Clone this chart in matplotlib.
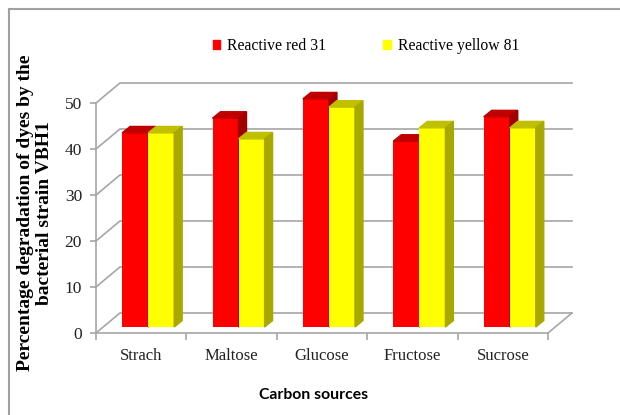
import numpy as np
import matplotlib.pyplot as plt
from matplotlib.patches import Polygon, Patch

# data
categories = ['Strach', 'Maltose', 'Glucose', 'Fructose', 'Sucrose']
red31 = [42.2, 45.4, 49.6, 40.4, 45.7]
yellow81 = [42.2, 40.9, 47.8, 43.3, 43.3]
yticks = [0, 10, 20, 30, 40, 50]

fig = plt.figure(figsize=(6.2, 4.15), dpi=100)
ax = fig.add_axes([96/620, (415-333)/415, 452/620, 230/415])
ax.set_xlim(-0.5, 4.5)
ax.set_ylim(0, 50)

serif = ['Liberation Serif', 'DejaVu Serif']
grid_c = '#a6a6a6'

# fake 3d offsets (in data units)
wx, wy = 0.265, 4.35     # back wall
px_, py_ = 0.077, 1.30   # bar plane
dx, dy = 0.088, 1.40     # bar depth
w = 0.288

x = np.arange(len(categories))

# back wall gridlines + left wall diagonals
for t in yticks:
    ax.plot([-0.5, -0.5 + wx, 4.5 + wx], [t, t + wy, t + wy], color=grid_c, lw=1.2,
            clip_on=False, zorder=1)
# floor right edge
ax.plot([4.5, 4.5 + wx], [0, wy], color=grid_c, lw=1.2, clip_on=False, zorder=1)

def box(xl, h, front, top, side):
    b = ax.bar(xl + px_, h, width=w, bottom=py_, align='edge', color=front,
               zorder=3, clip_on=False)
    x0, x1, y1 = xl + px_, xl + px_ + w, py_ + h
    ax.add_patch(Polygon([[x0, y1], [x1, y1], [x1 + dx, y1 + dy], [x0 + dx, y1 + dy]],
                         closed=True, color=top, zorder=3, clip_on=False))
    ax.add_patch(Polygon([[x1, py_], [x1, y1], [x1 + dx, y1 + dy], [x1 + dx, py_ + dy]],
                         closed=True, color=side, zorder=3, clip_on=False))
    return b

for i in range(len(categories)):
    box(x[i] - w, red31[i], '#ff0000', '#c00000', '#a00000')
    box(x[i], yellow81[i], '#ffff00', '#c0c000', '#a8a800')

# axes styling
for s in ['top', 'right']:
    ax.spines[s].set_visible(False)
ax.spines['left'].set_color(grid_c)
ax.spines['bottom'].set_color(grid_c)
ax.spines['left'].set_linewidth(1.2)
ax.spines['bottom'].set_linewidth(1.2)
ax.set_yticks(yticks)
ax.set_xticks(x)
ax.set_xticklabels(categories, fontfamily=serif, fontsize=12, color='#222222')
ax.set_xticks(np.arange(-0.5, 5, 1.0), minor=True)
ax.tick_params(axis='x', which='major', length=0, pad=11)
ax.tick_params(axis='x', which='minor', length=5, color=grid_c, width=1.2)
ax.tick_params(axis='y', length=4, color=grid_c, width=1.2, pad=6, labelsize=12.5)
for lab in ax.get_yticklabels():
    lab.set_fontfamily(serif)
    lab.set_color('#222222')
ax.patch.set_alpha(0)

# legend
handles = [Patch(color='#ff0000', label='Reactive red 31'),
           Patch(color='#ffff00', label='Reactive yellow 81')]
fig.legend(handles=handles, loc='center', bbox_to_anchor=(366/620, 1 - 46/415), ncol=2,
           frameon=False, handlelength=0.5, handleheight=0.5, handletextpad=0.45,
           columnspacing=3.6, prop={'family': serif, 'size': 11.3})

# labels
fig.text(35/620, 1 - 213/415, 'Percentage degradation of dyes by the\nbacterial strain VBH1',
         rotation=90, ha='center', va='center', multialignment='center',
         fontfamily=serif, fontweight='bold', fontsize=14, linespacing=1.08)
fig.text(314/620, 1 - 395/415, 'Carbon sources', ha='center', va='center',
         fontfamily=['Lato', 'DejaVu Sans'], fontweight='bold', fontsize=11.3)

# picture border (left and top)
fig.add_artist(plt.Line2D([9/620, 9/620], [0, 1 - 9/415], color='#a0a0a0', lw=1.5))
fig.add_artist(plt.Line2D([9/620, 1], [1 - 9/415, 1 - 9/415], color='#a0a0a0', lw=1.5))

fig.savefig('out.png', dpi=100)
